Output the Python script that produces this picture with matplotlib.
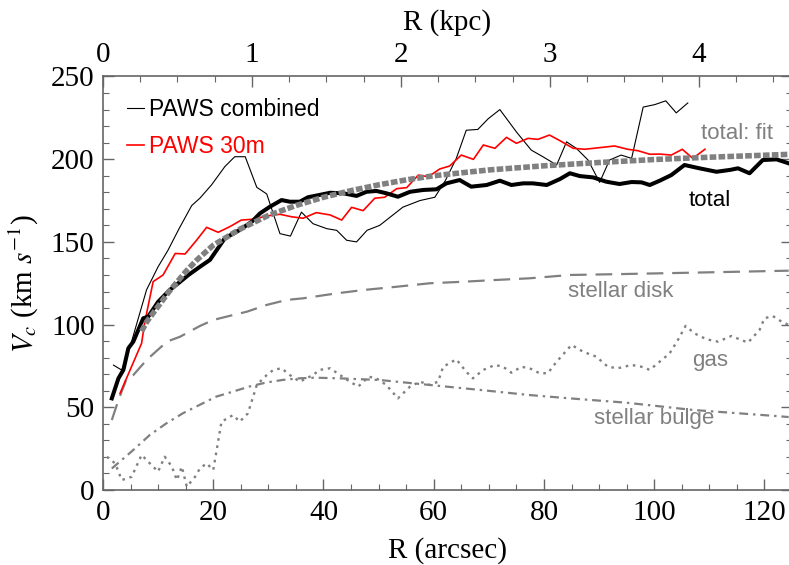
import numpy as np
import matplotlib
matplotlib.use('Agg')
import matplotlib.pyplot as plt
from matplotlib.ticker import MultipleLocator, FixedLocator

# PAWS combined (thin black)
r_comb = [1.9, 3.4, 4.9, 7.9, 10.0, 11.8, 13.8, 16.1, 17.6, 19.7, 22.1, 23.9, 25.8, 27.9, 29.7,
	32.1, 34.0, 36.0, 38.1, 40.6, 42.4, 44.2, 46.0, 47.9, 50.2, 54.4, 57.5, 60.2, 62.1, 64.1,
	65.9, 68.0, 69.9, 72.0, 75.0, 77.7, 79.8, 82.3, 84.1, 85.9, 88.0, 90.1, 91.9, 94.0, 95.9,
	98.0, 100.1, 102.1, 104.0, 106.1]
v_comb = [75.5, 72.5, 86.5, 121, 135, 145, 158, 172, 176.5, 184.5, 195.5, 201.5, 201.5, 183, 179,
	155, 153.5, 168, 161, 158, 157, 151, 150, 157, 160, 171, 175, 177, 187, 200.5,
	217.5, 218, 224.5, 230, 216.5, 205.5, 201.5, 196.5, 210.5, 206.5, 199.5, 186, 199.5, 202.5, 200.5,
	231.5, 233, 235.3, 228, 234]

# PAWS 30m (red)
r_30m = [3.1, 7.0, 7.6, 9.1, 10.9, 13.1, 14.9, 17.0, 18.8, 20.9, 23.0, 25.1, 27.3, 29.7, 32.1,
	34.2, 36.3, 38.7, 41.2, 43.3, 45.1, 47.2, 49.3, 51.1, 53.3, 55.1, 57.2, 59.0, 61.1, 62.9,
	65.0, 67.2, 69.0, 71.1, 73.2, 75.0, 77.1, 78.9, 81.0, 82.9, 85.3, 87.4, 90.7, 92.8, 95.2,
	97.1, 99.2, 101.0, 103.1, 105.1, 107.0, 109.2]
v_30m = [58.5, 88.7, 101.8, 126, 130, 143, 142.7, 151.1, 158.8, 155.8, 159.2, 163.2, 163.7, 165.7, 166.7,
	165.2, 164.3, 167.7, 166.3, 163.2, 170.9, 168.9, 176.4, 177, 182.2, 182.8, 190.4, 189.4, 194.1, 195.9,
	202.5, 199.9, 208.6, 206.6, 213.2, 209.6, 212.6, 212.0, 214.6, 211.2, 206.6, 206, 207.2, 208, 206,
	205.1, 203, 203.1, 202.5, 206, 200.5, 206]

# total (thick black)
r_tot = [1.6, 2.8, 3.7, 4.6, 5.5, 7.3, 8.2, 10.0, 12.1, 14.0, 15.5, 17.6, 19.4, 22.1, 24.8,
	27.0, 28.5, 30.3, 32.4, 33.9, 35.7, 37.2, 39.3, 41.2, 43.6, 46.0, 47.8, 49.6, 51.4, 53.5,
	55.7, 58.1, 60.5, 62.3, 64.7, 66.8, 69.6, 72.0, 74.1, 76.2, 78.0, 80.5, 82.9, 84.7, 86.5,
	88.9, 91.3, 93.7, 95.9, 97.7, 99.2, 101.0, 103.1, 105.5, 108.2, 111.3, 113.7, 115.2, 117.3, 119.7,
	122.2, 124.4]
v_tot = [55.4, 67.5, 72.6, 85.7, 89.7, 103.8, 104.8, 113.8, 120.9, 125.9, 130, 135, 139.1, 152.2, 157.2,
	162.2, 167.3, 171.3, 175.3, 174.3, 174.3, 177, 178.4, 179.7, 179.4, 177.8, 180.3, 180.8, 179.4, 177.3,
	180.3, 181.4, 181.8, 185.4, 187.4, 183.4, 184.4, 187, 184.4, 185.4, 185.4, 184.4, 188, 191.5, 189.8,
	189, 186.4, 185, 186.2, 186, 184.4, 187, 190.4, 196.5, 194.5, 192.4, 193.5, 194.5, 191.5, 199.5,
	199.9, 197.5]

# total: fit
r_fit = [7, 8, 10, 12, 15, 17, 20, 25, 30, 35, 40, 45, 50, 55, 60, 70, 80, 90, 100, 110, 125]
v_fit = [96, 102, 111, 120, 132, 139, 148, 158, 166, 172, 177, 181, 184.5, 187.5, 190, 193.5, 196,
	198, 199.8, 201.2, 203]

# stellar disk
r_disk = [1.6, 2.8, 4.3, 5.5, 7.9, 11.6, 14.0, 17.6, 20.0, 23.6, 26.1, 29.7, 33.3, 36.3, 42.4,
	47.2, 53.3, 59.3, 65.3, 71.4, 77.4, 84.7, 94.9, 107.0, 124.4]
v_disk = [42.3, 54.4, 67.5, 69.5, 78.6, 89.7, 92.7, 99.2, 102.8, 105.8, 107.8, 111.9, 114.9, 115.9, 118.9,
	120.9, 122.9, 125, 125.9, 127, 128, 130, 130.6, 131.4, 132.6]

# gas
r_gas = [0.7, 2.2, 3.4, 5.2, 7.0, 8.5, 10.0, 11.2, 12.5, 13.4, 14.3, 15.2, 16.7, 17.6, 18.8,
	20.0, 21.5, 23.6, 24.8, 26.3, 27.9, 29.7, 30.9, 32.4, 33.9, 35.7, 36.9, 38.1, 39.3, 41.2,
	43.0, 44.8, 46.3, 48.2, 49.6, 51.4, 53.5, 55.7, 57.5, 59.3, 60.8, 61.7, 64.1, 65.9, 67.1,
	69.0, 71.1, 72.6, 74.1, 75.9, 77.4, 79.2, 80.7, 82.3, 85.0, 87.1, 89.5, 91.6, 93.4, 95.9,
	97.7, 99.2, 101.0, 102.8, 104.3, 105.7, 107.3, 109.5, 111.6, 114.0, 117.0, 119.1, 120.0, 121.5, 123.1,
	124.4]
v_gas = [20.1, 16.1, 6.0, 8.0, 21.2, 16.1, 11.1, 20.1, 14.1, 6.0, 14.1, 2.0, 8.0, 13.1, 16.1,
	12.1, 41.3, 45.3, 41.3, 46.4, 63.5, 69.5, 72.6, 73.6, 69.5, 65.5, 67.5, 69.5, 72.6, 73.6,
	69.5, 65.5, 62.5, 68.5, 67.5, 63.5, 55.4, 62.5, 65.5, 63.5, 65.5, 74.5, 79.0, 71.5, 67.5,
	72.6, 75.6, 74.5, 70.9, 74.5, 73.6, 70.6, 70.6, 77.6, 87.7, 83.6, 80.6, 74.5, 73.6, 75.6,
	74.5, 72.6, 77.6, 82.6, 90.7, 99.2, 94.7, 91.1, 89.7, 93.1, 89.1, 96.7, 103.8, 105.2, 101.8,
	99.8]

# stellar bulge
r_bulge = [1.6, 5.5, 8.5, 11.5, 14.5, 17.5, 20.5, 23.5, 26.5, 29.5, 32.5, 35.5, 38.5, 43.0, 50.2,
	59.3, 68.4, 77.4, 84.7, 94.9, 107.0, 122.2, 124.4]
v_bulge = [13, 24.2, 33.3, 40.3, 46.4, 51.4, 56.4, 59.4, 62.5, 64.9, 66.5, 67.5, 67.9, 67.5, 66.5,
	63.5, 60.5, 57.4, 55.4, 52.8, 48.4, 44.7, 44.1]

kpc_ticks = [0, 1, 2, 3, 4]
kpc_per_arcsec = 0.037
grey = '#808080'
frame = '#666666'


def main():
	plt.rcParams['font.family'] = ['Liberation Serif', 'DejaVu Serif']
	plt.rcParams['mathtext.fontset'] = 'stix'

	fig = plt.figure(figsize=(7.89, 5.65), dpi=100)
	ax = fig.add_axes([103 / 789, 1 - 490 / 565, 689 / 789, 413.5 / 565])

	ax.plot(r_disk, v_disk, color=grey, lw=1.6, ls=(0, (7.5, 4)))
	ax.plot(r_gas, v_gas, color=grey, lw=1.7, ls=(0, (1.1, 2.0)))
	ax.plot(r_bulge, v_bulge, color=grey, lw=1.6, ls=(0, (4, 2.2, 1.1, 2.2)))
	ax.plot(r_comb, v_comb, color='black', lw=0.8, label='PAWS combined')
	ax.plot(r_30m, v_30m, color='red', lw=1.2, label='PAWS 30m')
	ax.plot(r_tot, v_tot, color='black', lw=2.9)
	ax.plot(r_fit, v_fit, color=grey, lw=4, ls=(0, (1.2, 0.4)))

	sans = ['Liberation Sans', 'DejaVu Sans']
	ax.text(115.1, 215.5, 'total: fit', color=grey, fontsize=16, family=sans, ha='center', va='center')
	ax.text(110.1, 175.3, 'total', color='black', fontsize=16, family=sans, ha='center', va='center')
	ax.text(94.0, 120.3, 'stellar disk', color=grey, fontsize=16, family=sans, ha='center', va='center')
	ax.text(110.1, 78.1, 'gas', color=grey, fontsize=16, family=sans, ha='center', va='center')
	ax.text(99.9, 43.4, 'stellar bulge', color=grey, fontsize=16, family=sans, ha='center', va='center')

	leg = ax.legend(loc='upper left', bbox_to_anchor=(0.035, 0.948), frameon=False,
		prop={'family': sans, 'size': 16.5}, handlelength=0.75, handletextpad=0.2,
		borderpad=0, borderaxespad=0, labelspacing=0.62)
	for txt, c in zip(leg.get_texts(), ['black', 'red']):
		txt.set_color(c)

	ax.set_xlim(0, 125)
	ax.set_ylim(0, 250)
	ax.xaxis.set_major_locator(MultipleLocator(20))
	ax.xaxis.set_minor_locator(MultipleLocator(5))
	ax.yaxis.set_major_locator(MultipleLocator(50))
	ax.yaxis.set_minor_locator(MultipleLocator(10))
	ax.tick_params(which='both', direction='in', right=True, color=frame, labelsize=21, pad=7)
	ax.tick_params(axis='y', pad=6)
	ax.tick_params(which='major', length=8, width=1)
	ax.tick_params(which='minor', length=4, width=0.8)
	for s in ax.spines.values():
		s.set_color(frame)
		s.set_linewidth(1.2)
	ax.spines['top'].set_visible(False)

	ax.set_xlabel('R (arcsec)', fontsize=21, labelpad=8)
	ax.set_ylabel(r'$V_c$ (km $s^{-1}$)', fontsize=21, labelpad=7)

	top = ax.secondary_xaxis('top', functions=(lambda r: r * kpc_per_arcsec, lambda k: k / kpc_per_arcsec))
	top.xaxis.set_major_locator(FixedLocator(kpc_ticks))
	top.xaxis.set_minor_locator(FixedLocator(np.arange(0, 4.6, 0.25)))
	top.tick_params(which='both', direction='in', color=frame, labelsize=21, pad=6)
	top.tick_params(which='major', length=8, width=1)
	top.tick_params(which='minor', length=4, width=0.8)
	top.spines['top'].set_color(frame)
	top.spines['top'].set_linewidth(1.2)
	top.set_xlabel('R (kpc)', fontsize=21, labelpad=9)

	fig.savefig('out.png', dpi=100)


main()
